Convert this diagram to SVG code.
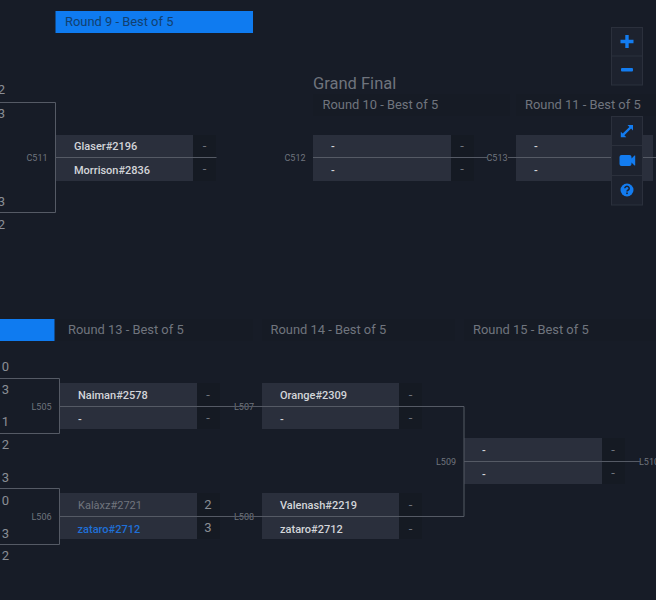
<svg xmlns="http://www.w3.org/2000/svg" width="656" height="600" viewBox="0 0 656 600">
<style>
text{font-family:Roboto,"Liberation Sans",sans-serif}
.box{fill:#2a2f3c}
.sc{fill:#151a23}
.hd{fill:#161b25}
.rt{font-size:12.9px;fill:#70757e}
.nm{font-size:11px;fill:#d3d5d9;font-weight:500}
.dim{fill:#71757e;font-weight:400}
.win{fill:#1f70d8}
.s{font-size:13px;fill:#71757e;text-anchor:middle}
.sb{font-size:13px;fill:#8a8e95;text-anchor:middle}
.id{font-size:9px;fill:#6f747d;text-anchor:middle}
.ln{fill:none;stroke:#555a65;stroke-width:1}
.dv{fill:none;stroke:#2b303c;stroke-width:1}
.pn{fill:#1d222e;stroke:#2b303c;stroke-width:1}
.ic{fill:#137cf0}
</style>
<rect width="656" height="600" fill="#171c27"/>

<g id="round-headers">
<rect x="55.500" y="11" width="197.500" height="22" fill="#0f7bf0"/>
<text x="65" y="26" font-size="12.900" fill="#12406f">Round 9 - Best of 5</text>
<rect x="0" y="319" width="54.500" height="22" fill="#0f7bf0"/>
<rect x="56" y="319" width="197" height="22" class="hd"/>
<text x="68" y="334" class="rt">Round 13 - Best of 5</text>
<rect x="262" y="319" width="193" height="22" class="hd"/>
<text x="270.500" y="334" class="rt">Round 14 - Best of 5</text>
<rect x="464" y="319" width="192" height="22" class="hd"/>
<text x="473" y="334" class="rt">Round 15 - Best of 5</text>
<text x="313" y="89" font-size="16.500" fill="#6f747d">Grand Final</text>
<rect x="313" y="94" width="197" height="22" class="hd"/>
<text x="322.500" y="109" class="rt">Round 10 - Best of 5</text>
<rect x="516" y="94" width="140" height="22" class="hd"/>
<text x="525" y="109" class="rt">Round 11 - Best of 5</text>
</g>

<g id="left-scores">
<text x="1.500" y="94" class="sb">2</text>
<text x="1.500" y="118" class="sb">3</text>
<text x="1.500" y="206" class="sb">3</text>
<text x="1.500" y="229" class="sb">2</text>
<text x="5.500" y="371" class="sb">0</text>
<text x="5.500" y="394" class="sb">3</text>
<text x="5.500" y="426" class="sb">1</text>
<text x="5.500" y="449" class="sb">2</text>
<text x="5.500" y="482" class="sb">3</text>
<text x="5.500" y="505" class="sb">0</text>
<text x="5.500" y="538" class="sb">3</text>
<text x="5.500" y="560" class="sb">2</text>
</g>

<g id="match-c511">
<rect x="56" y="135" width="137" height="46" class="box"/><rect x="193" y="135" width="23" height="46" class="sc"/>
<text x="74" y="150" class="nm">Glaser#2196</text><text x="74" y="174" class="nm">Morrison#2836</text>
<text x="204.500" y="150" class="s">-</text><text x="204.500" y="173" class="s">-</text>
<text x="37" y="161" class="id">C511</text>
</g>
<g id="match-c512">
<rect x="313" y="135" width="138" height="46" class="box"/><rect x="451" y="135" width="23" height="46" class="sc"/>
<text x="331" y="150" class="nm">-</text><text x="331" y="174" class="nm">-</text>
<text x="462" y="150" class="s">-</text><text x="462" y="173" class="s">-</text>
<text x="295" y="161" class="id">C512</text>
</g>
<g id="match-c513">
<rect x="516" y="135" width="137" height="46" class="box"/>
<text x="534" y="150" class="nm">-</text><text x="534" y="174" class="nm">-</text>
<text x="497" y="161" class="id">C513</text>
</g>
<g id="match-l505">
<rect x="60" y="383" width="137" height="46" class="box"/><rect x="197" y="383" width="23" height="46" class="sc"/>
<text x="78" y="399" class="nm">Naiman#2578</text><text x="78" y="423" class="nm">-</text>
<text x="208" y="399" class="s">-</text><text x="208" y="422" class="s">-</text>
<text x="41.500" y="410" class="id">L505</text>
</g>
<g id="match-l506">
<rect x="60" y="493" width="137" height="46" class="box"/><rect x="197" y="493" width="23" height="46" class="sc"/>
<text x="78" y="509" class="nm dim">Kalàxz#2721</text><text x="77.500" y="533" class="nm win">zataro#2712</text>
<text x="208" y="509" class="sb">2</text><text x="208" y="532" class="sb">3</text>
<text x="41.500" y="520" class="id">L506</text>
</g>
<g id="match-l507">
<rect x="262" y="383" width="137" height="46" class="box"/><rect x="399" y="383" width="23" height="46" class="sc"/>
<text x="280" y="399" class="nm">Orange#2309</text><text x="280" y="423" class="nm">-</text>
<text x="410.500" y="399" class="s">-</text><text x="410.500" y="422" class="s">-</text>
<text x="244" y="410" class="id">L507</text>
</g>
<g id="match-l508">
<rect x="262" y="493" width="137" height="46" class="box"/><rect x="399" y="493" width="23" height="46" class="sc"/>
<text x="280" y="509" class="nm">Valenash#2219</text><text x="280" y="533" class="nm">zataro#2712</text>
<text x="410.500" y="509" class="s">-</text><text x="410.500" y="533" class="s">-</text>
<text x="244" y="520" class="id">L508</text>
</g>
<g id="match-l509">
<rect x="464" y="438" width="138" height="46" class="box"/><rect x="602" y="438" width="23" height="46" class="sc"/>
<text x="482" y="454" class="nm">-</text><text x="482" y="478" class="nm">-</text>
<text x="613" y="454" class="s">-</text><text x="613" y="477" class="s">-</text>
<text x="446" y="465" class="id">L509</text>
<text x="639" y="465" font-size="9" fill="#6f747d">L510</text>
</g>

<g id="connectors">
<path class="ln" d="M0 102.500H55.500V212.500H0"/>
<path class="ln" d="M55.500 157.500H216.500"/>
<path class="ln" d="M313 157.500H487M508 157.500H656"/>
<path class="ln" d="M0 378.500H59.500V433.500H0"/>
<path class="ln" d="M0 488.500H59.500V544.500H0"/>
<path class="ln" d="M59.500 406.500H464V516.500H59.500"/>
<path class="ln" d="M464 461.500H640"/>
</g>

<g id="zoom-controls">
<rect x="611.500" y="27.500" width="31" height="57.500" class="pn"/>
<path class="dv" d="M612 56H642"/>
<path class="ic" d="M625.300 35h3.400v4.800h4.800v3.400h-4.800v4.800h-3.400v-4.800h-4.800v-3.400h4.800z"/>
<rect x="621" y="68" width="12" height="3.500" rx="1" class="ic"/>
</g>
<g id="view-controls">
<rect x="611.500" y="116.500" width="31" height="88.500" class="pn"/>
<path class="dv" d="M612 145.500H642M612 175.500H642"/>
<path class="ic" d="M627.500 125h5.500v5.500l-1.900-1.900-6.700 6.700 1.900 1.900h-5.500v-5.500l1.900 1.900 6.700-6.700z"/>
<path class="ic" d="M621.500 155h8a2 2 0 0 1 2 2v1.500l3-3h.7v10h-.7l-3-3v1.500a2 2 0 0 1-2 2h-8a2 2 0 0 1-2-2v-7a2 2 0 0 1 2-2z"/>
<circle cx="627" cy="190" r="6.500" class="ic"/>
<path d="M624.800 188.300a2.200 2 0 1 1 3.400 1.700c-.8.500-1.200.9-1.200 1.500" fill="none" stroke="#1d222e" stroke-width="1.500"/>
<rect x="626.200" y="192.500" width="1.600" height="1.600" fill="#1d222e"/>
</g>
</svg>
